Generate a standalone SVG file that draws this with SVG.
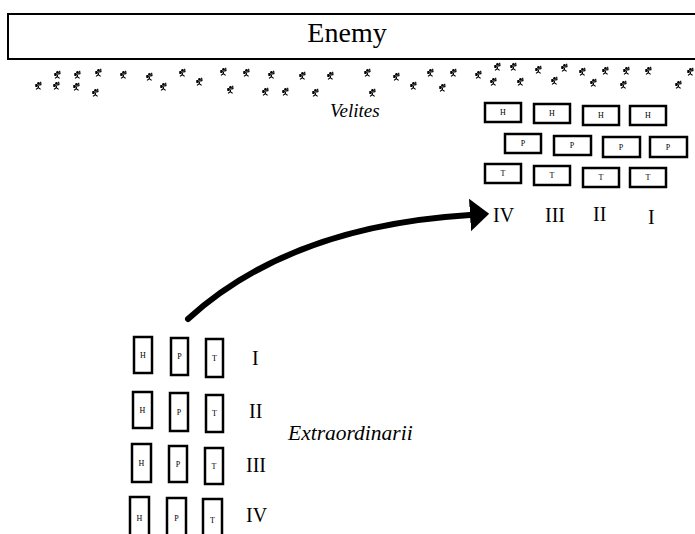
<svg xmlns="http://www.w3.org/2000/svg" xmlns:xlink="http://www.w3.org/1999/xlink" width="695" height="534" viewBox="0 0 695 534">
<style>
.box{fill:#fff;stroke:#000;stroke-width:2.5}
.bt{font-family:"Liberation Serif",serif;font-size:8px;text-anchor:middle;fill:#000}
.rn{font-family:"Liberation Serif",serif;font-size:20px;fill:#000}
.it{font-family:"Liberation Serif",serif;font-style:italic;fill:#000}
</style>
<defs>
<g id="v">
<circle cx="0.5" cy="-2.8" r="1.3" fill="#000"/>
<path d="M-2.2,-0.5 L3.2,-1.3 M0.5,-1.5 L0.3,1.6 L-2,3.4 M0.3,1.6 L2.6,3.4 M2.6,-4.3 L3,-1" stroke="#000" stroke-width="1.2" fill="none"/>
<path d="M-2.7,-2 L-0.6,-2 L-0.6,1 L-2.7,1 Z" fill="#000"/>
</g>
<marker id="ah" markerWidth="6" markerHeight="6" refX="0" refY="3" orient="auto" markerUnits="strokeWidth">
<path d="M0,0.3 L3.2,3 L0,5.7 Z" fill="#000"/>
</marker>
</defs>
<rect width="695" height="534" fill="#fff"/>
<g id="enemy">
<rect x="8" y="14" width="700" height="45" fill="#fff" stroke="#000" stroke-width="2"/>
<text x="347" y="42" font-family="Liberation Serif,serif" font-size="28" text-anchor="middle">Enemy</text>
</g>
<g id="velites">
<use xlink:href="#v" x="57" y="75"/><use xlink:href="#v" x="77" y="75"/><use xlink:href="#v" x="98" y="73"/><use xlink:href="#v" x="123" y="75"/><use xlink:href="#v" x="149" y="77"/><use xlink:href="#v" x="182" y="73"/><use xlink:href="#v" x="223" y="72"/><use xlink:href="#v" x="246" y="73"/><use xlink:href="#v" x="271" y="75"/><use xlink:href="#v" x="302" y="76"/><use xlink:href="#v" x="330" y="76"/>
<use xlink:href="#v" x="38" y="86"/><use xlink:href="#v" x="56" y="86"/><use xlink:href="#v" x="76" y="87"/><use xlink:href="#v" x="95" y="93"/><use xlink:href="#v" x="163" y="87"/><use xlink:href="#v" x="199" y="82"/><use xlink:href="#v" x="230" y="90"/><use xlink:href="#v" x="265" y="92"/><use xlink:href="#v" x="285" y="92"/><use xlink:href="#v" x="315" y="93"/>
<use xlink:href="#v" x="367" y="73"/><use xlink:href="#v" x="396" y="77"/><use xlink:href="#v" x="413" y="86"/><use xlink:href="#v" x="430" y="73"/><use xlink:href="#v" x="453" y="73"/><use xlink:href="#v" x="478" y="75"/><use xlink:href="#v" x="497" y="67"/><use xlink:href="#v" x="513" y="67"/><use xlink:href="#v" x="493" y="82"/><use xlink:href="#v" x="520" y="82"/><use xlink:href="#v" x="538" y="70"/><use xlink:href="#v" x="554" y="81"/><use xlink:href="#v" x="564" y="68"/><use xlink:href="#v" x="582" y="72"/><use xlink:href="#v" x="593" y="83"/><use xlink:href="#v" x="605" y="71"/><use xlink:href="#v" x="626" y="71"/><use xlink:href="#v" x="623" y="85"/><use xlink:href="#v" x="648" y="71"/><use xlink:href="#v" x="678" y="85"/><use xlink:href="#v" x="690" y="72"/><use xlink:href="#v" x="372" y="93"/><use xlink:href="#v" x="442" y="88"/>
<text class="it" x="330" y="117" font-size="19">Velites</text>
</g>
<g id="legion-right">
<rect class="box" x="485" y="103" width="36" height="19"/><text class="bt" x="503" y="115">H</text>
<rect class="box" x="534" y="104" width="36" height="19"/><text class="bt" x="552" y="116">H</text>
<rect class="box" x="583" y="106" width="36" height="19"/><text class="bt" x="601" y="118">H</text>
<rect class="box" x="630" y="106" width="36" height="19"/><text class="bt" x="648" y="118">H</text>
<rect class="box" x="505" y="134" width="36" height="19"/><text class="bt" x="523" y="146">P</text>
<rect class="box" x="554" y="136" width="37" height="19"/><text class="bt" x="572" y="148">P</text>
<rect class="box" x="603" y="137" width="37" height="20"/><text class="bt" x="621" y="150">P</text>
<rect class="box" x="650" y="137" width="37" height="20"/><text class="bt" x="668" y="150">P</text>
<rect class="box" x="485" y="164" width="36" height="19"/><text class="bt" x="503" y="176">T</text>
<rect class="box" x="534" y="166" width="36" height="19"/><text class="bt" x="552" y="178">T</text>
<rect class="box" x="583" y="168" width="36" height="19"/><text class="bt" x="601" y="180">T</text>
<rect class="box" x="630" y="168" width="36" height="19"/><text class="bt" x="648" y="180">T</text>
<text class="rn" x="493" y="222">IV</text>
<text class="rn" x="545" y="222">III</text>
<text class="rn" x="593" y="221">II</text>
<text class="rn" x="648" y="224">I</text>
</g>
<g id="extraordinarii">
<rect class="box" x="134" y="337" width="18" height="36"/><text class="bt" x="143" y="358">H</text>
<rect class="box" x="171" y="338" width="17" height="37"/><text class="bt" x="179.5" y="359">P</text>
<rect class="box" x="206" y="339" width="17" height="38"/><text class="bt" x="214.5" y="361">T</text>
<text class="rn" x="252" y="365">I</text>
<rect class="box" x="133" y="392" width="19" height="36"/><text class="bt" x="142.5" y="413">H</text>
<rect class="box" x="170" y="393" width="18" height="38"/><text class="bt" x="179" y="415">P</text>
<rect class="box" x="206" y="395" width="17" height="37"/><text class="bt" x="214.5" y="416">T</text>
<text class="rn" x="249" y="418">II</text>
<rect class="box" x="132" y="444" width="19" height="38"/><text class="bt" x="141.5" y="466">H</text>
<rect class="box" x="169" y="446" width="18" height="36"/><text class="bt" x="178" y="467">P</text>
<rect class="box" x="205" y="448" width="18" height="36"/><text class="bt" x="214" y="469">T</text>
<text class="rn" x="246" y="472">III</text>
<rect class="box" x="130" y="497" width="19" height="40"/><text class="bt" x="139.5" y="521">H</text>
<rect class="box" x="167" y="498" width="19" height="40"/><text class="bt" x="176.5" y="521">P</text>
<rect class="box" x="203" y="499" width="19" height="40"/><text class="bt" x="212.5" y="523">T</text>
<text class="rn" x="246" y="522">IV</text>
<text class="it" x="288" y="440" font-size="21.5">Extraordinarii</text>
</g>
<g id="connectors">
<path d="M188,319 Q290,226 470,215" fill="none" stroke="#000" stroke-width="6" stroke-linecap="round" marker-end="url(#ah)"/>
</g>
</svg>
